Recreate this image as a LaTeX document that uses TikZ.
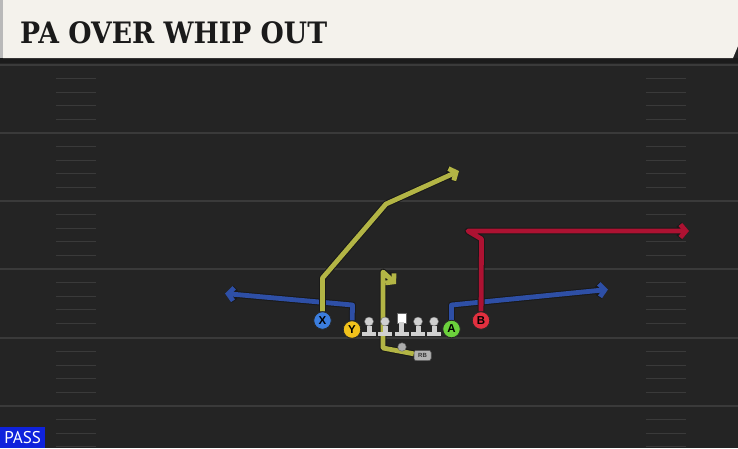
\documentclass[tikz,border=0pt]{standalone}
\usepackage{fontspec}
\setsansfont{Liberation Sans}
\newfontfamily\titlefont{DejaVu Serif}
\newfontfamily\passfont{PT Sans}
\usetikzlibrary{arrows.meta,positioning}

\definecolor{field}{HTML}{242424}
\definecolor{fieldedge}{HTML}{1B1B1B}
\definecolor{yardline}{HTML}{3A3A3A}
\definecolor{hashmark}{HTML}{3A3A3A}
\definecolor{titlebg}{HTML}{F4F2EC}
\definecolor{titletext}{HTML}{1A1A1A}
\definecolor{routeyellow}{HTML}{B3B545}
\definecolor{routeblue}{HTML}{2E4FA6}
\definecolor{routered}{HTML}{AD1232}
\definecolor{xblue}{HTML}{3B7DDD}
\definecolor{yyellow}{HTML}{F2C21B}
\definecolor{agreen}{HTML}{6CD23C}
\definecolor{bred}{HTML}{E2303F}
\definecolor{passblue}{HTML}{0F22DC}
\definecolor{oline}{HTML}{D0D0D0}

\tikzset{
  yard/.style={draw=yardline, line width=2pt},
  hash/.style={draw=hashmark, line width=1.3pt},
  route/.style={draw=#1, line width=4.8pt, line join=round,
    -{Straight Barb[length=5.5pt,width=13pt]},
    preaction={draw=black!90, line width=6.8pt, line join=round}},
  player/.style={circle, draw=black!85, line width=0.8pt, fill=#1,
    minimum size=17.5pt, inner sep=0pt,
    font=\sffamily\bfseries\fontsize{11.5}{11.5}\selectfont},
  ohead/.style={circle, fill=oline, draw=black!60, line width=0.4pt,
    minimum size=9pt, inner sep=0pt},
  csquare/.style={rectangle, fill=white, draw=black!60, line width=0.4pt,
    minimum size=9.5pt, inner sep=0pt},
  rbbox/.style={rectangle, rounded corners=2pt, fill=gray!60, draw=black!70,
    line width=0.5pt, minimum width=17pt, minimum height=10pt, inner sep=0pt,
    text=black!80, font=\sffamily\bfseries\fontsize{6}{6}\selectfont},
}

\begin{document}
\begin{tikzpicture}[x=1pt,y=-1pt]

  \useasboundingbox (0,0) rectangle (738,448);
  \clip (0,0) rectangle (738,448);

  % field
  \fill[field] (0,0) rectangle (738,448);
  \fill[fieldedge] (0,58) rectangle (738,63);
  \foreach \yl in {65,133,201,269,338,406} {
    \draw[yard] (0,\yl) -- (738,\yl);
    \foreach \k in {1,...,4} {
      \draw[hash] (56,{\yl+13.6*\k}) -- (96,{\yl+13.6*\k});
      \draw[hash] (646,{\yl+13.6*\k}) -- (686,{\yl+13.6*\k});
    }
  }

  % title bar
  \fill[titlebg] (3,0) -- (738,0) -- (738,46) -- (733,58) -- (3,58) -- cycle;
  \fill[gray!55] (0,0) rectangle (3,58);
  \node[anchor=base west, inner sep=0pt, text=titletext, xscale=0.905,
    font=\titlefont\bfseries\fontsize{29.5}{30}\selectfont] (title) at (20,43) {PA OVER WHIP OUT};

  % players
  \node[player=xblue] (X) at (322.5,320.5) {X};
  \node[player=yyellow] (Y) at (352,329.5) {Y};
  \node[player=agreen] (A) at (451.5,329) {A};
  \node[player=bred] (B) at (481,320.5) {B};
  \node[rbbox] (RB) at (422.5,355.5) {RB};

  % route points
  \coordinate (Ycut) at (352.5,305);
  \coordinate (Yend) at (225,293.5);
  \coordinate (Acut) at (451.5,305);
  \coordinate (Aend) at (608,289.5);
  \coordinate (Xstem) at (322.5,278);
  \coordinate (Xbreak) at (386,204);
  \coordinate (Xend) at (459,171);
  \coordinate (Bstem) at (481.5,239);
  \coordinate (Bbreak) at (468,231);
  \coordinate (Bend) at (689,231);
  \coordinate (RBflat) at (383,348);
  \coordinate (RBstem) at (383,272);
  \coordinate (RBend) at (396,284);

  % routes
  \draw[route=routeblue] (Y) -- (Ycut) -- (Yend);
  \draw[route=routeblue] (A) -- (Acut) -- (Aend);
  \draw[route=routeyellow] (X) -- (Xstem) -- (Xbreak) -- (Xend);
  \draw[route=routered] (B) -- (Bstem) -- (Bbreak) -- (Bend);
  \draw[route=routeyellow] (RB) -- (RBflat) -- (RBstem) -- (RBend);

  % players on top
  \node[player=xblue] at (X) {X};
  \node[player=yyellow] at (Y) {Y};
  \node[player=agreen] at (A) {A};
  \node[player=bred] at (B) {B};
  \node[rbbox] at (RB) {RB};

  % line
  \node[csquare] (C) at (401.5,318) {};
  \fill[oline] (399,322) rectangle (404,333);
  \fill[oline] (394.5,332) rectangle (408.5,336);
  \foreach \n/\x in {LT/369,LG/385,RG/418,RT/434} {
    \node[ohead] (\n) at (\x,321.5) {};
    \fill[oline] ({\x-2.5},326) rectangle ({\x+2.5},333);
    \fill[oline] ({\x-7},332) rectangle ({\x+7},336);
  }
  \node[circle, fill=gray!65, draw=black!60, line width=0.4pt,
    minimum size=8.5pt, inner sep=0pt] (QB) at (402,347) {};

  % formation tag
  \node[anchor=south west, fill=passblue, text=white, minimum width=45pt,
    minimum height=21pt, inner sep=1pt,
    font=\passfont\fontsize{17}{17}\selectfont] (pass) at (0,448) {PASS};

\end{tikzpicture}
\end{document}
